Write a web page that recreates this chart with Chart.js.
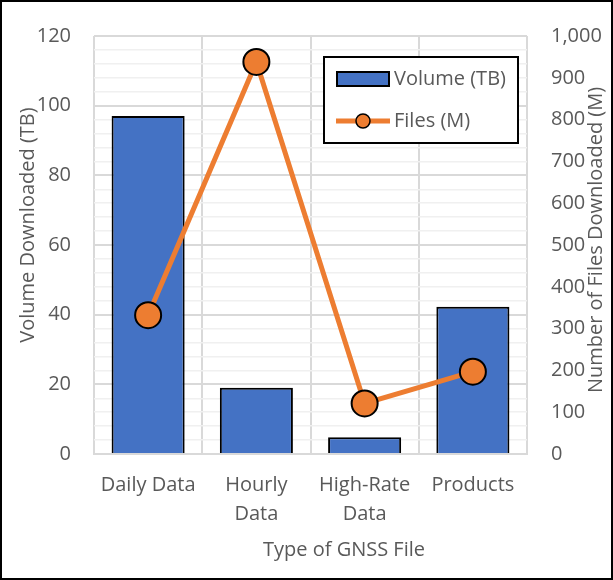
<!DOCTYPE html>
<html>
<head>
<meta charset="utf-8">
<script src="https://cdn.jsdelivr.net/npm/chart.js@4/dist/chart.umd.min.js"></script>
<style>
	html, body { margin: 0; padding: 0; background: #fff; }
	#wrap { width: 613px; height: 580px; position: relative; }
</style>
</head>
<body>
<div id="wrap"><canvas id="grafica"></canvas></div>
<script>
const categorias = [["Daily Data"], ["Hourly", "Data"], ["High-Rate", "Data"], ["Products"]];
const volumen = [97, 19, 4.8, 42.3];
const archivos = [332, 938, 121, 197];
const ticksIzq = [0, 20, 40, 60, 80, 100, 120];
const ticksDer = [0, 100, 200, 300, 400, 500, 600, 700, 800, 900, 1000];

(function () {
	const ctx = document.getElementById("grafica");
	const gris = "#595959";
	const fuente = "'Open Sans', sans-serif";

	function texto(c, t, x, y, ang) {
		c.save();
		c.fillStyle = gris;
		c.font = "20px " + fuente;
		c.textAlign = "center";
		c.textBaseline = "middle";
		c.translate(x, y);
		c.rotate(ang);
		c.fillText(t, 0, 0);
		c.restore();
	}

	// leyenda dentro del area, titulos y marco
	const extras = {
		id: "extras",
		afterDatasetsDraw(chart) {
			const c = chart.ctx;
			c.save();
			c.fillStyle = "#fff";
			c.fillRect(324, 57, 194, 86);
			c.strokeStyle = "#000";
			c.lineWidth = 2;
			c.strokeRect(324, 57, 194, 86);
			c.fillStyle = "#4472C4";
			c.fillRect(337, 72, 52, 14);
			c.strokeRect(337, 72, 52, 14);
			c.strokeStyle = "#ED7D31";
			c.lineWidth = 5;
			c.beginPath();
			c.moveTo(336, 121);
			c.lineTo(390, 121);
			c.stroke();
			c.beginPath();
			c.arc(363, 121, 7, 0, Math.PI * 2);
			c.fillStyle = "#ED7D31";
			c.fill();
			c.strokeStyle = "#000";
			c.lineWidth = 1.5;
			c.stroke();
			c.fillStyle = gris;
			c.font = "20px " + fuente;
			c.textBaseline = "middle";
			c.fillText("Volume (TB)", 394, 79);
			c.fillText("Files (M)", 394, 121);
			c.restore();
		},
		afterDraw(chart) {
			const c = chart.ctx;
			texto(c, "Volume Downloaded (TB)", 28, 225, -Math.PI / 2);
			texto(c, "Number of Files Downloaded (M)", 596, 240, -Math.PI / 2);
			texto(c, "Type of GNSS File", 344, 550, 0);
			c.save();
			c.strokeStyle = "#000";
			c.lineWidth = 2;
			c.strokeRect(1, 1, 611, 578);
			c.restore();
		},
	};

	new Chart(ctx, {
		type: "bar",
		data: {
			labels: categorias,
			datasets: [
				{
					type: "line",
					label: "Files (M)",
					data: archivos,
					yAxisID: "y1",
					borderColor: "#ED7D31",
					backgroundColor: "#ED7D31",
					borderWidth: 5,
					pointRadius: 13,
					pointHoverRadius: 13,
					pointBorderColor: "#000",
					pointBorderWidth: 2,
					pointBackgroundColor: "#ED7D31",
					tension: 0,
					clip: false,
					order: 0,
				},
				{
					label: "Volume (TB)",
					data: volumen,
					yAxisID: "y",
					backgroundColor: "#4472C4",
					borderColor: "#000",
					borderWidth: 2,
					categoryPercentage: 1,
					barPercentage: 0.675,
					order: 1,
				},
			],
		},
		options: {
			responsive: true,
			maintainAspectRatio: false,
			animation: false,
			layout: { padding: { top: 29, left: 0, right: 0, bottom: 0 } },
			plugins: {
				legend: { display: false },
				tooltip: { enabled: false },
			},
			scales: {
				x: {
					offset: true,
					grid: { color: "#d9d9d9", lineWidth: 2, drawTicks: false, offset: true },
					border: { color: "#d9d9d9", width: 2 },
					ticks: {
						color: gris,
						font: { size: 20, family: fuente, lineHeight: 1.45 },
						padding: 17,
						maxRotation: 0,
					},
					afterFit(s) { s.height = 126; },
				},
				y: {
					position: "left",
					min: 0,
					max: 120,
					afterBuildTicks(s) {
						const t = [];
						for (let v = 0; v <= 120; v += 4) t.push({ value: v });
						s.ticks = t;
					},
					grid: {
						drawTicks: false,
						color: (c) => (ticksIzq.includes(c.tick.value) ? "#d9d9d9" : "#f0f0f0"),
						lineWidth: (c) => (ticksIzq.includes(c.tick.value) ? 2 : 1.5),
					},
					border: { display: false },
					ticks: {
						autoSkip: false,
						color: gris,
						font: { size: 20, family: fuente },
						padding: 23,
						callback: (v) => (ticksIzq.includes(v) ? v : ""),
					},
					afterFit(s) { s.width = 94; },
				},
				y1: {
					position: "right",
					min: 0,
					max: 1000,
					afterBuildTicks(s) {
						s.ticks = ticksDer.map((v) => ({ value: v }));
					},
					grid: { drawOnChartArea: false, drawTicks: false },
					border: { display: false },
					ticks: {
						autoSkip: false,
						color: gris,
						font: { size: 20, family: fuente },
						padding: 24,
						callback: (v) => v.toLocaleString("en-US"),
					},
					afterFit(s) { s.width = 86; },
				},
			},
		},
		plugins: [extras],
	});
})();
</script>
</body>
</html>
